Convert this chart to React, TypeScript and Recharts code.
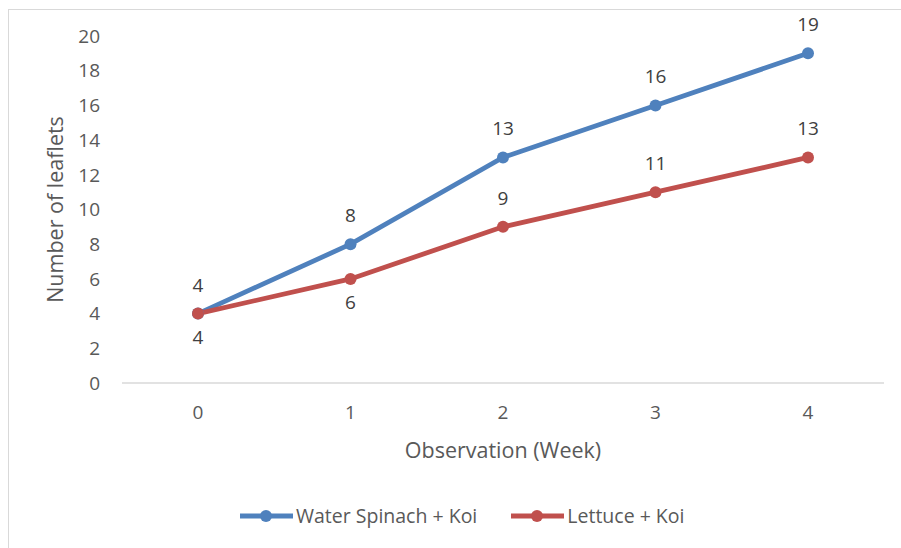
import React from "react";
import { LineChart, Line, XAxis, YAxis, Legend, LabelList } from "recharts";

const weeks = ["0", "1", "2", "3", "4"];
const waterSpinach = [4, 8, 13, 16, 19];
const lettuce = [4, 6, 9, 11, 13];
const yTicks = [0, 2, 4, 6, 8, 10, 12, 14, 16, 18, 20];
const seriesOrder = ["Water Spinach + Koi", "Lettuce + Koi"];

const FONT = "'Open Sans', sans-serif";
const BLUE = "#4f81bd";
const RED = "#c0504d";
const TEXT = "#595959";

const data = weeks.map((w, i) => ({ week: w, spinach: waterSpinach[i], lettuce: lettuce[i] }));

// lettuce labels sit under the first two points, like the original
const makeLabel = (below: (i: number) => boolean) => (props: any) => {
  const { x, y, value, index } = props;
  const dy = below(index) ? 23 : -29;
  return (
    <text x={x} y={y + dy} textAnchor="middle" dominantBaseline="central" fill="#404040" fontSize={19} fontFamily={FONT}>
      {value}
    </text>
  );
};

const renderLegend = (props: any) => {
  const payload = [...(props.payload || [])].sort(
    (a: any, b: any) => seriesOrder.indexOf(a.value) - seriesOrder.indexOf(b.value)
  );
  return (
    <div style={{ display: "flex", alignItems: "center", fontFamily: FONT, fontSize: 19.5, color: TEXT }}>
      {payload.map((item: any, idx: number) => (
        <div key={idx} style={{ display: "flex", alignItems: "center", marginRight: 34 }}>
          <svg width={53} height={16} style={{ marginRight: 3 }}>
            <line x1={0} y1={8} x2={53} y2={8} stroke={item.color} strokeWidth={4.8} />
            <circle cx={26} cy={8} r={6} fill={item.color} />
          </svg>
          <span>{item.value}</span>
        </div>
      ))}
    </div>
  );
};

export default function App() {
  return (
    <div style={{ position: "absolute", left: 0, top: 0, width: 901, height: 548, overflow: "hidden", background: "#fff" }}>
      <div style={{ position: "absolute", left: 8, top: 9, width: 1000, height: 1000, border: "1.5px solid #d9d9d9" }} />
      <LineChart width={901} height={548} data={data} margin={{ top: 36, right: 17, bottom: 78, left: 0 }} style={{ position: "absolute", left: 0, top: 0 }}>
        <XAxis
          dataKey="week"
          padding={{ left: 76, right: 76 }}
          axisLine={{ stroke: "#d9d9d9", strokeWidth: 1.5 }}
          tickLine={false}
          tickSize={0}
          tickMargin={23}
          height={60}
          tick={{ fill: TEXT, fontSize: 19, fontFamily: FONT }}
          label={{ value: "Observation (Week)", position: "bottom", offset: 0, fill: TEXT, fontSize: 21.5, fontFamily: FONT }}
        />
        <YAxis
          domain={[0, 20]}
          ticks={yTicks}
          width={122}
          axisLine={false}
          tickLine={false}
          tickSize={0}
          tickMargin={22}
          tick={{ fill: TEXT, fontSize: 19, fontFamily: FONT }}
          label={{ value: "Number of leaflets", angle: -90, position: "center", dx: -6, fill: TEXT, fontSize: 21.5, fontFamily: FONT }}
        />
        <Legend
          layout="vertical"
          align="center"
          verticalAlign="bottom"
          content={renderLegend}
          wrapperStyle={{ left: 240, top: 502, bottom: "auto", width: 600 }}
        />
        <Line
          name="Water Spinach + Koi"
          dataKey="spinach"
          stroke={BLUE}
          strokeWidth={4.8}
          dot={{ r: 6, fill: BLUE, stroke: BLUE, strokeWidth: 0 }}
          activeDot={false}
          isAnimationActive={false}
        >
          <LabelList dataKey="spinach" content={makeLabel(() => false)} />
        </Line>
        <Line
          name="Lettuce + Koi"
          dataKey="lettuce"
          stroke={RED}
          strokeWidth={4.8}
          dot={{ r: 6, fill: RED, stroke: RED, strokeWidth: 0 }}
          activeDot={false}
          isAnimationActive={false}
        >
          <LabelList dataKey="lettuce" content={makeLabel((i) => i < 2)} />
        </Line>
      </LineChart>
    </div>
  );
}
